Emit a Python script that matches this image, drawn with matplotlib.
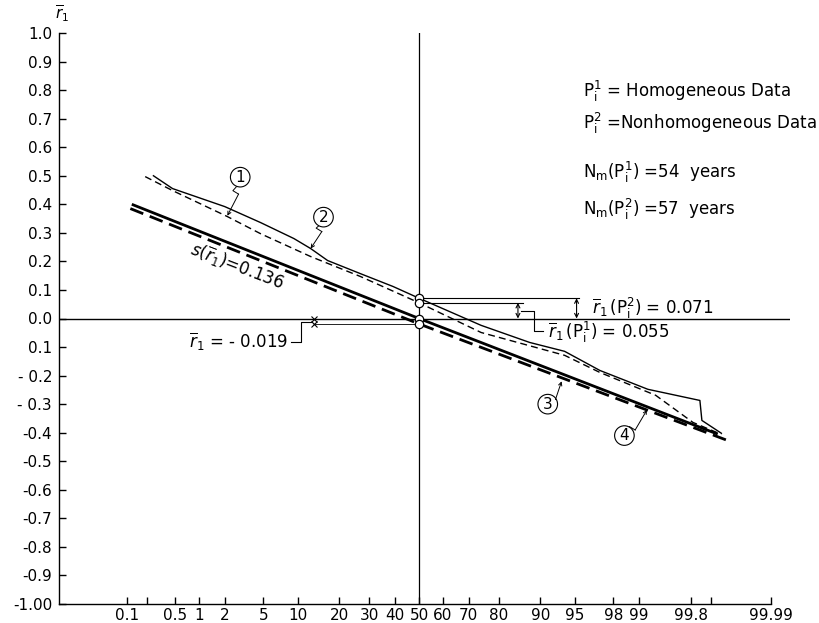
import numpy as np
import matplotlib.pyplot as plt
from statistics import NormalDist

# probability (%) -> standard normal quantile, for the probability-paper axis
nd = NormalDist()
def zq(p):
    return np.array([nd.inv_cdf(v / 100.0) for v in np.atleast_1d(p)])

# curve 1 : homogeneous data P1 (thin dashed)
p_hom = [0.19, 0.46, 2.14, 4.7, 12.6, 26.8, 50, 74.4, 93.8, 97.2, 99.38, 99.81, 99.93]
r_hom = [0.497, 0.448, 0.357, 0.297, 0.217, 0.147, 0.055, -0.049, -0.129, -0.189, -0.269, -0.364, -0.406]

# curve 2 : nonhomogeneous data P2 (thin solid)
p_non = [0.25, 0.46, 2.0, 4.7, 9.3, 12.6, 16.7, 26.8, 39.2, 50, 74.4, 87.9, 93.8, 97.2, 99.22, 99.85, 99.86, 99.93]
r_non = [0.50, 0.455, 0.392, 0.336, 0.280, 0.245, 0.203, 0.157, 0.112, 0.071, -0.024, -0.084, -0.115, -0.182, -0.248, -0.287, -0.357, -0.402]

# lines 3 and 4 : normal lines
p_line3 = [0.12, 50, 99.92]
r_line3 = [0.40, 0.0, -0.405]
p_line4 = [0.114, 50, 99.944]
r_line4 = [0.385, -0.019, -0.427]

# medians / means
r_med_p2 = 0.071
r_med_p1 = 0.055
r_mean = -0.019
p_mean_mark = 13.3

x_tick_p = [0.1, 0.2, 0.5, 1, 2, 5, 10, 20, 30, 40, 50, 60, 70, 80, 90, 95, 98, 99, 99.8, 99.9, 99.99]
x_tick_lab = ['0.1', '', '0.5', '1', '2', '5', '10', '20', '30', '40', '50', '60', '70', '80',
              '90', '95', '98', '99', '99.8', '', '99.99']
y_ticks = np.round(np.arange(-1.0, 1.01, 0.1), 2)
y_tick_lab = ['-1.00', '-0.9', '-0.8', '-0.7', '-0.6', '-0.5', '-0.4', '- 0.3', '- 0.2', '0.1',
              '0.0', '0.1', '0.2', '0.3', '0.4', '0.5', '0.6', '0.7', '0.8', '0.9', '1.0']

H = 623
fig = plt.figure(figsize=(8.2, 6.23), dpi=100)
ax = fig.add_axes([59 / 820, 19 / H, 731 / 820, 571 / H])
ax.set_xlim(-3.805, 3.92)
ax.set_ylim(-1.0, 1.0)

for s in ['top', 'right']:
    ax.spines[s].set_visible(False)
ax.spines['left'].set_bounds(-1.0, 1.0)
ax.spines['bottom'].set_bounds(-3.805, zq(99.99)[0])
ax.spines['left'].set_linewidth(1.0)
ax.spines['bottom'].set_linewidth(1.0)

ax.set_xticks(zq(x_tick_p))
ax.set_xticklabels(x_tick_lab, fontsize=11)
ax.set_yticks(y_ticks)
ax.set_yticklabels(y_tick_lab, fontsize=11)
ax.tick_params(axis='both', direction='in', length=5, width=1.0)
ax.tick_params(axis='x', pad=3)
ax.tick_params(axis='y', pad=5)

# zero line and 50 % line
ax.axhline(0.0, color='black', lw=1.0)
ax.plot([0, 0], [-1.0, 1.0], color='black', lw=0.9)

# the four lines
ax.plot(zq(p_line3), r_line3, color='black', lw=2.0, solid_capstyle='butt')
ax.plot(zq(p_line4), r_line4, color='black', lw=2.0, ls=(0, (5, 2.5)))
ax.plot(zq(p_non), r_non, color='black', lw=1.0)
ax.plot(zq(p_hom), r_hom, color='black', lw=1.0, ls=(0, (5, 3)))

# circles at the median
ax.plot([0, 0, 0, 0], [r_med_p2, r_med_p1, 0.0, r_mean], 'o', ms=6, mfc='white',
        mec='black', mew=0.9, zorder=5)

# median levels with dimension arrows
ax.plot([0, zq(95.4)[0]], [r_med_p2, r_med_p2], color='black', lw=0.8)
ax.plot([0, zq(86.4)[0]], [r_med_p1, r_med_p1], color='black', lw=0.8)
for pp, rv in [(95.2, r_med_p2), (85.2, r_med_p1)]:
    xx = zq(pp)[0]
    ax.annotate('', xy=(xx, rv), xytext=(xx, 0.0),
                arrowprops=dict(arrowstyle='<->', lw=0.8, shrinkA=0, shrinkB=0,
                                mutation_scale=7))
ax.text(1.83, 0.036, r'$\overline{r}_1\,(\mathregular{P_i^2})$ = 0.071', fontsize=12,
        va='center', ha='left')
zb = zq(85.2)[0]
ax.plot([zb + 0.03, zb + 0.17, zb + 0.17, zb + 0.27], [0.027, 0.027, -0.043, -0.043],
        color='black', lw=0.8)
ax.text(1.36, -0.05, r'$\overline{r}_1\,(\mathregular{P_i^1})$ = 0.055', fontsize=12,
        va='center', ha='left')

# mean marks
zm = zq(p_mean_mark)[0]
ax.plot([zm, zm], [0.0, r_mean], 'x', color='black', ms=4, mew=0.8)
ax.plot([zm, 0], [r_mean, r_mean], color='black', lw=0.6)
ax.plot([zm - 0.24, zm - 0.14, zm - 0.14, zm - 0.02], [-0.082, -0.082, -0.014, -0.014],
        color='black', lw=0.8)
ax.text(zm - 0.27, -0.082, r'$\overline{r}_1$ = - 0.019', fontsize=12, ha='right', va='center')

# slope label
ax.text(-1.92, 0.183, r'$s(\overline{r}_1)$=0.136', fontsize=12, rotation=-21,
        ha='center', va='center', rotation_mode='anchor')

# circled curve numbers with zigzag pointers
def tag(num, cx, cy, tp, tr):
    tz = zq(tp)[0]
    ax.text(cx, cy, num, fontsize=11, ha='center', va='center',
            bbox=dict(boxstyle='circle,pad=0.15', fc='white', ec='black', lw=0.8))
    mx = cx + (tz - cx) * 0.35
    my = cy + (tr - cy) * 0.35
    ax.plot([cx + (tz - cx) * 0.22, mx - 0.03, mx + 0.03], [cy + (tr - cy) * 0.22, my, my - 0.012],
            color='black', lw=0.7)
    ax.annotate('', xy=(tz, tr), xytext=(mx + 0.03, my - 0.012),
                arrowprops=dict(arrowstyle='->', lw=0.7, shrinkA=0, shrinkB=0,
                                mutation_scale=6))

tag('1', -1.89, 0.495, 2.14, 0.36)
tag('2', -1.01, 0.355, 12.6, 0.245)
tag('3', 1.36, -0.30, 93.4, -0.22)
tag('4', 2.17, -0.41, 99.2, -0.32)

# descriptive text block
ax.text(1.73, 0.795, r'$\mathregular{P_i^1}$ = Homogeneous Data', fontsize=12, va='center')
ax.text(1.73, 0.683, r'$\mathregular{P_i^2}$ =Nonhomogeneous Data', fontsize=12, va='center')
ax.text(1.73, 0.511, r'$\mathregular{N_m(P_i^1)}$ =54  years', fontsize=12, va='center')
ax.text(1.73, 0.382, r'$\mathregular{N_m(P_i^2)}$ =57  years', fontsize=12, va='center')

# axis label
fig.text(62 / 820, (H - 14) / H, r'$\overline{r}_1$', fontsize=11, ha='center', va='center')

fig.savefig('out.png', dpi=100)
